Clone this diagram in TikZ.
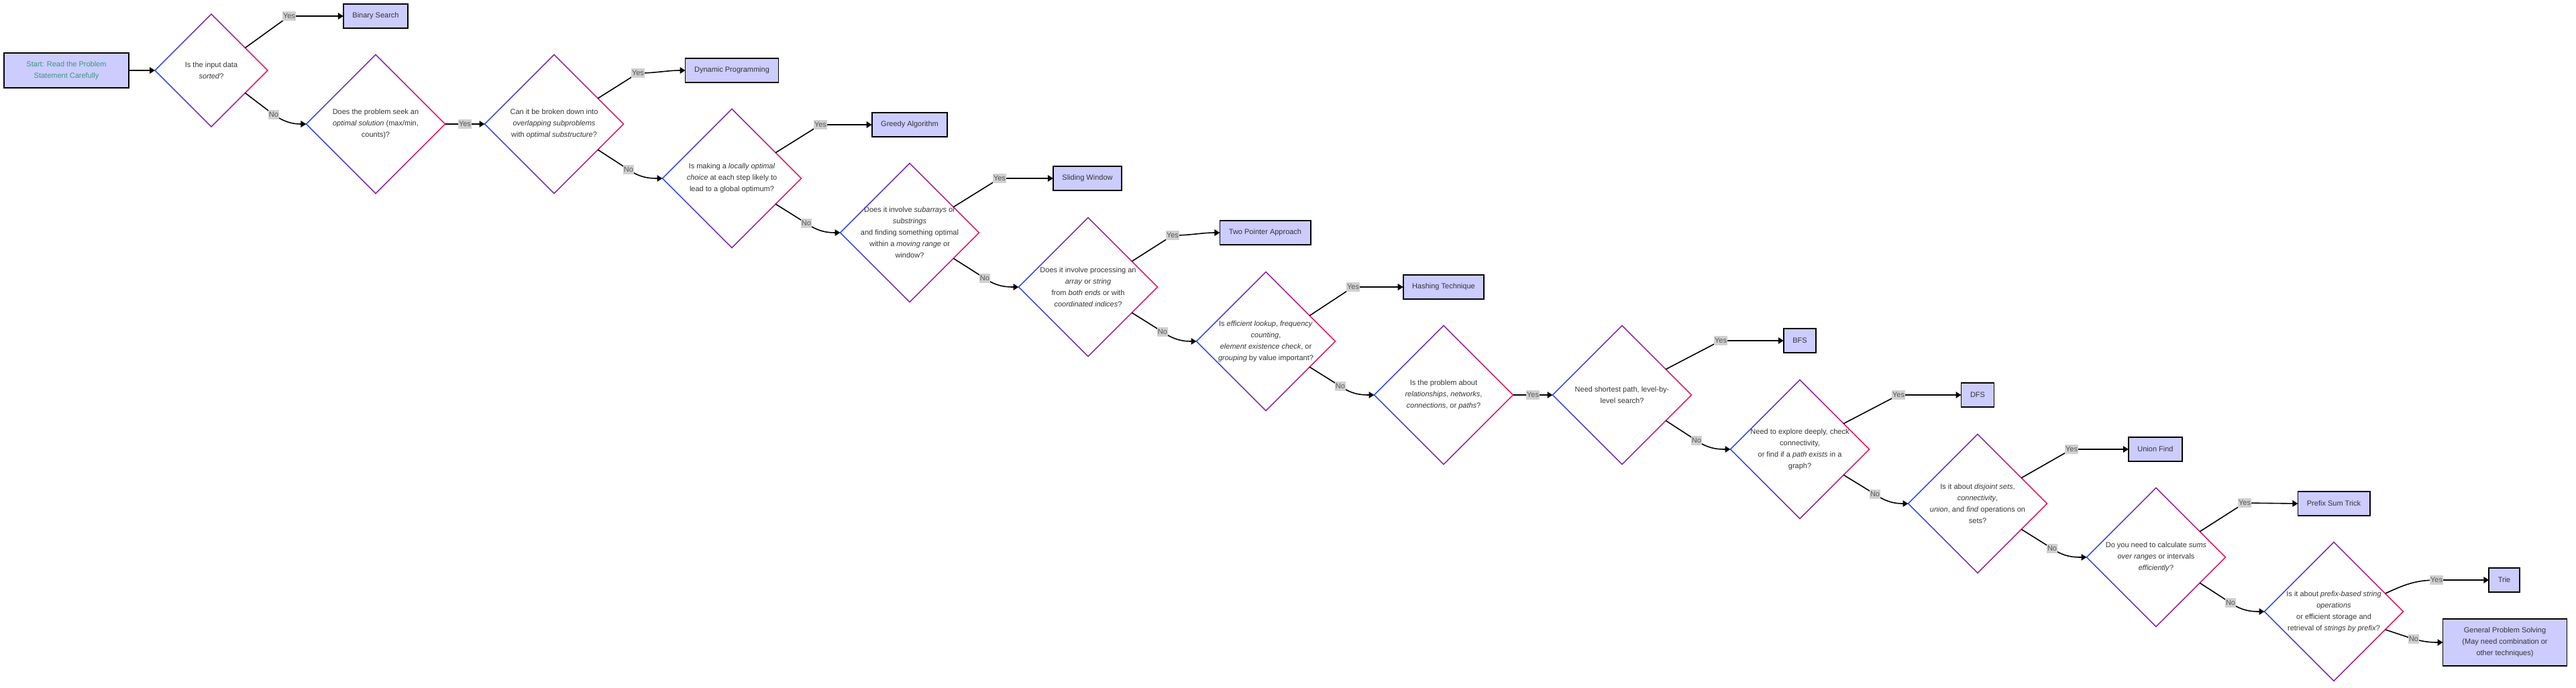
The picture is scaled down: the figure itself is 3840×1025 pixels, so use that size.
\documentclass[tikz,border=0pt]{standalone}
\usepackage{fontspec}
\setmainfont{Liberation Sans}
\usetikzlibrary{shapes.geometric,arrows.meta,calc}

\definecolor{rimblue}{RGB}{40,80,250}
\definecolor{rimpurple}{RGB}{135,40,170}
\definecolor{rimred}{RGB}{245,20,90}
\definecolor{boxfill}{RGB}{204,204,255}
\definecolor{txtgray}{RGB}{51,51,51}
\definecolor{starttxt}{RGB}{60,150,125}
\definecolor{lblfill}{RGB}{208,208,208}
\definecolor{lbltxt}{RGB}{85,85,85}

% gradient outline of a decision diamond
\newcommand{\rimshade}[1]{%
  \shade[even odd rule, left color=rimblue, right color=rimred, middle color=rimpurple]
    ($(#1.north)+(0,1.1)$) -- ($(#1.east)+(1.1,0)$) -- ($(#1.south)+(0,-1.1)$) -- ($(#1.west)+(-1.1,0)$) -- cycle
    ($(#1.north)+(0,-1.1)$) -- ($(#1.east)+(-1.1,0)$) -- ($(#1.south)+(0,1.1)$) -- ($(#1.west)+(1.1,0)$) -- cycle;}

\tikzset{
  decision/.style={diamond, minimum width=103.5pt, minimum height=103.5pt, inner sep=0pt, outer sep=0pt},
  qtext/.style={align=center, text=txtgray, font=\fontsize{5.5}{8.5}\selectfont},
  algo/.style={draw=black, line width=0.9pt, fill=boxfill, text=txtgray, align=center,
    font=\fontsize{5.5}{8.5}\selectfont, minimum height=18pt, inner xsep=6.75pt, outer sep=0pt},
  lbl/.style={fill=lblfill, text=lbltxt, font=\fontsize{5.5}{6.5}\selectfont, inner xsep=0.3pt, inner ysep=1.5pt},
  flow/.style={line width=0.8pt, -{Triangle[length=4pt,width=4.8pt]}}
}

\begin{document}
\begin{tikzpicture}[x=0.5pt,y=0.5pt]

	\useasboundingbox (0,0) rectangle (3840,-1025);

	\node[algo, text=starttxt, minimum width=93pt, minimum height=26pt] (start) at (99,-105) {Start: Read the Problem\\Statement Carefully};

	\node[decision, minimum width=84pt, minimum height=84pt] (d1) at (315,-105)
		[label={[qtext]center:{Is the input data\\\emph{sorted}?}}] {};
	\node[decision] (d2) at (560,-185)
		[label={[qtext]center:{Does the problem seek an\\\emph{optimal solution} (max/min,\\counts)?}}] {};
	\node[decision] (d3) at (826,-185)
		[label={[qtext]center:{Can it be broken down into\\\emph{overlapping subproblems}\\with \emph{optimal substructure}?}}] {};
	\node[decision] (d4) at (1091,-266)
		[label={[qtext]center:{Is making a \emph{locally optimal}\\\emph{choice} at each step likely to\\lead to a global optimum?}}] {};
	\node[decision] (d5) at (1356,-347)
		[label={[qtext]center:{Does it involve \emph{subarrays} or\\\emph{substrings}\\and finding something optimal\\within a \emph{moving range} or\\window?}}] {};
	\node[decision] (d6) at (1622,-428)
		[label={[qtext]center:{Does it involve processing an\\\emph{array} or \emph{string}\\from \emph{both ends} or with\\\emph{coordinated indices}?}}] {};
	\node[decision] (d7) at (1887,-509)
		[label={[qtext]center:{Is \emph{efficient lookup}, \emph{frequency}\\\emph{counting},\\\emph{element existence check}, or\\\emph{grouping} by value important?}}] {};
	\node[decision] (d8) at (2152,-589)
		[label={[qtext]center:{Is the problem about\\\emph{relationships}, \emph{networks},\\\emph{connections}, or \emph{paths}?}}] {};
	\node[decision] (d9) at (2418,-589)
		[label={[qtext]center:{Need shortest path, level-by-\\level search?}}] {};
	\node[decision] (d10) at (2683,-670)
		[label={[qtext]center:{Need to explore deeply, check\\connectivity,\\or find if a \emph{path exists} in a\\graph?}}] {};
	\node[decision] (d11) at (2948,-751)
		[label={[qtext]center:{Is it about \emph{disjoint sets},\\\emph{connectivity},\\\emph{union}, and \emph{find} operations on\\sets?}}] {};
	\node[decision] (d12) at (3214,-831)
		[label={[qtext]center:{Do you need to calculate \emph{sums}\\\emph{over ranges} or intervals\\\emph{efficiently}?}}] {};
	\node[decision] (d13) at (3479,-912)
		[label={[qtext]center:{Is it about \emph{prefix-based string}\\\emph{operations}\\or efficient storage and\\retrieval of \emph{strings by prefix}?}}] {};

	\foreach \i in {1,...,13} {\rimshade{d\i}}

	\node[algo] (bs) at (560,-24) {Binary Search};
	\node[algo] (dp) at (1091,-105) {Dynamic Programming};
	\node[algo] (greedy) at (1356,-186) {Greedy Algorithm};
	\node[algo] (sliding) at (1621,-266) {Sliding Window};
	\node[algo] (twoptr) at (1886,-347) {Two Pointer Approach};
	\node[algo] (hash) at (2152,-428) {Hashing Technique};
	\node[algo] (bfs) at (2683,-508) {BFS};
	\node[algo] (dfs) at (2948,-589) {DFS};
	\node[algo] (union) at (3213,-670) {Union Find};
	\node[algo] (prefix) at (3479,-751) {Prefix Sum Trick};
	\node[algo] (trie) at (3733,-865) {Trie};
	\node[algo, minimum width=92.5pt, minimum height=35pt] (general) at (3734,-958) {General Problem Solving\\(May need combination or\\other techniques)};

	\draw[flow] (start.east) -- (d1.west);
	\draw[flow] ($(d1.north)!0.6!(d1.east)$) -- (431,-24) node[lbl]{Yes} -- (bs.west);
	\draw[flow] ($(d1.east)!0.4!(d1.south)$) -- (408,-171) node[lbl]{No} to[out=-35,in=180] (d2);
	\draw[flow] (d2.east) -- node[lbl]{Yes} (d3.west);
	\draw[flow] ($(d3.north)!0.63!(d3.east)$) -- (951,-109) node[lbl]{Yes} to[out=0,in=180] (dp.west);
	\draw[flow] ($(d3.east)!0.37!(d3.south)$) -- (937,-253) node[lbl]{No} to[out=-35,in=180] (d4);
	\draw[flow] ($(d4.north)!0.63!(d4.east)$) -- (1223,-186) node[lbl]{Yes} -- (greedy.west);
	\draw[flow] ($(d4.east)!0.37!(d4.south)$) -- (1202,-333) node[lbl]{No} to[out=-35,in=180] (d5);
	\draw[flow] ($(d5.north)!0.63!(d5.east)$) -- (1490,-266) node[lbl]{Yes} -- (sliding.west);
	\draw[flow] ($(d5.east)!0.37!(d5.south)$) -- (1468,-415) node[lbl]{No} to[out=-35,in=180] (d6);
	\draw[flow] ($(d6.north)!0.63!(d6.east)$) -- (1748,-351) node[lbl]{Yes} to[out=0,in=180] (twoptr.west);
	\draw[flow] ($(d6.east)!0.37!(d6.south)$) -- (1733,-495) node[lbl]{No} to[out=-35,in=180] (d7);
	\draw[flow] ($(d7.north)!0.63!(d7.east)$) -- (2017,-428) node[lbl]{Yes} -- (hash.west);
	\draw[flow] ($(d7.east)!0.37!(d7.south)$) -- (1998,-576) node[lbl]{No} to[out=-35,in=180] (d8);
	\draw[flow] (d8.east) -- node[lbl]{Yes} (d9.west);
	\draw[flow] ($(d9.north)!0.63!(d9.east)$) -- (2565,-508) node[lbl]{Yes} -- (bfs.west);
	\draw[flow] ($(d9.east)!0.37!(d9.south)$) -- (2529,-657) node[lbl]{No} to[out=-35,in=180] (d10);
	\draw[flow] ($(d10.north)!0.63!(d10.east)$) -- (2830,-589) node[lbl]{Yes} -- (dfs.west);
	\draw[flow] ($(d10.east)!0.37!(d10.south)$) -- (2795,-737) node[lbl]{No} to[out=-35,in=180] (d11);
	\draw[flow] ($(d11.north)!0.63!(d11.east)$) -- (3088,-670) node[lbl]{Yes} -- (union.west);
	\draw[flow] ($(d11.east)!0.37!(d11.south)$) -- (3059,-818) node[lbl]{No} to[out=-35,in=180] (d12);
	\draw[flow] ($(d12.north)!0.63!(d12.east)$) -- (3346,-750) node[lbl]{Yes} -- (prefix.west);
	\draw[flow] ($(d12.east)!0.37!(d12.south)$) -- (3325,-899) node[lbl]{No} to[out=-35,in=180] (d13);
	\draw[flow] ($(d13.north)!0.74!(d13.east)$) to[out=25,in=180] (3632,-865) node[lbl]{Yes} -- (trie.west);
	\draw[flow] ($(d13.east)!0.26!(d13.south)$) -- (3598,-953) node[lbl]{No} to[out=-15,in=180] (general.west);

\end{tikzpicture}
\end{document}
